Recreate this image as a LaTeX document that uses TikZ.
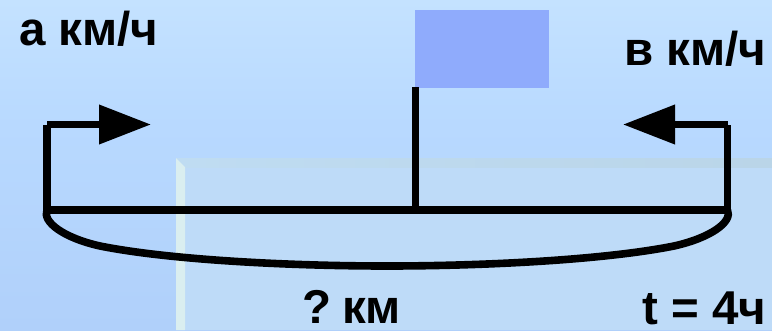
\documentclass[tikz,border=0pt]{standalone}
\usepackage{fontspec}
\setmainfont{Liberation Sans}
\usetikzlibrary{arrows.meta}
\definecolor{bgtop}{HTML}{C4E2FF}
\definecolor{bgmid}{HTML}{B8D9FF}
\definecolor{bgbot}{HTML}{B0D0FA}
\definecolor{panel}{HTML}{BEDBF8}
\definecolor{bandleft}{HTML}{BFDCF2}
\definecolor{bandright}{HTML}{BAD5E8}
\definecolor{panelside}{HTML}{DAEEF0}
\definecolor{flagblue}{HTML}{8FABFC}
\tikzset{
  lab/.style={font=\bfseries\fontsize{47.5}{48}\selectfont, text=black, inner sep=0pt, anchor=base west},
  heavy/.style={draw=black, line width=7.6pt},
  tip/.style={-{Triangle[length=52pt,width=38pt]}, draw=black, line width=7.2pt}
}
\begin{document}
\begin{tikzpicture}[x=1pt,y=-1pt]
\useasboundingbox (0,0) rectangle (772,330);
% background
\fill[top color=bgtop,bottom color=bgmid] (0,0) rectangle (772,125);
\fill[top color=bgmid,bottom color=bgbot] (0,125) rectangle (772,330);
\fill[panel] (176,158) rectangle (772,330);
\fill[left color=bandleft,right color=bandright] (176,158) rectangle (772,167);
\fill[panelside] (176,158) -- (185,167) -- (185,330) -- (176,330) -- cycle;
% flag
\node[fill=flagblue,draw=none,minimum width=134pt,minimum height=78pt,inner sep=0pt,anchor=north west] (flag) at (414.5,10) {};
% coordinates
\coordinate (L) at (47,210);
\coordinate (R) at (727.5,210);
\coordinate (M) at (415.5,210);
\coordinate (P) at (415.5,87);
\coordinate (LT) at (47,124.5);
\coordinate (RT) at (727.5,124.5);
\coordinate (LA) at (151,124.5);
\coordinate (RA) at (623,124.5);
% lines
\draw[heavy] (L) -- (R);
\draw[heavy] (M) -- (P);
\draw[heavy] (L) -- (LT);
\draw[heavy] (R) -- (RT);
\draw[tip] (LT) -- (LA);
\draw[tip] (RT) -- (RA);
\draw[heavy] (L) .. controls (42,222) and (64,238) .. (100,246) .. controls (170,260) and (290,266) .. (387,266) .. controls (484,266) and (604,260) .. (674,246) .. controls (710,238) and (733,222) .. (R);
% text
\node[lab] (a) at (19,45) {а км/ч};
\node[lab] (b) at (624,65) {в км/ч};
\node[lab] (c) at (302,323) {?\hspace{11pt}км};
\node[lab] (d) at (642,324.5) {t = 4ч};
\end{tikzpicture}
\end{document}
